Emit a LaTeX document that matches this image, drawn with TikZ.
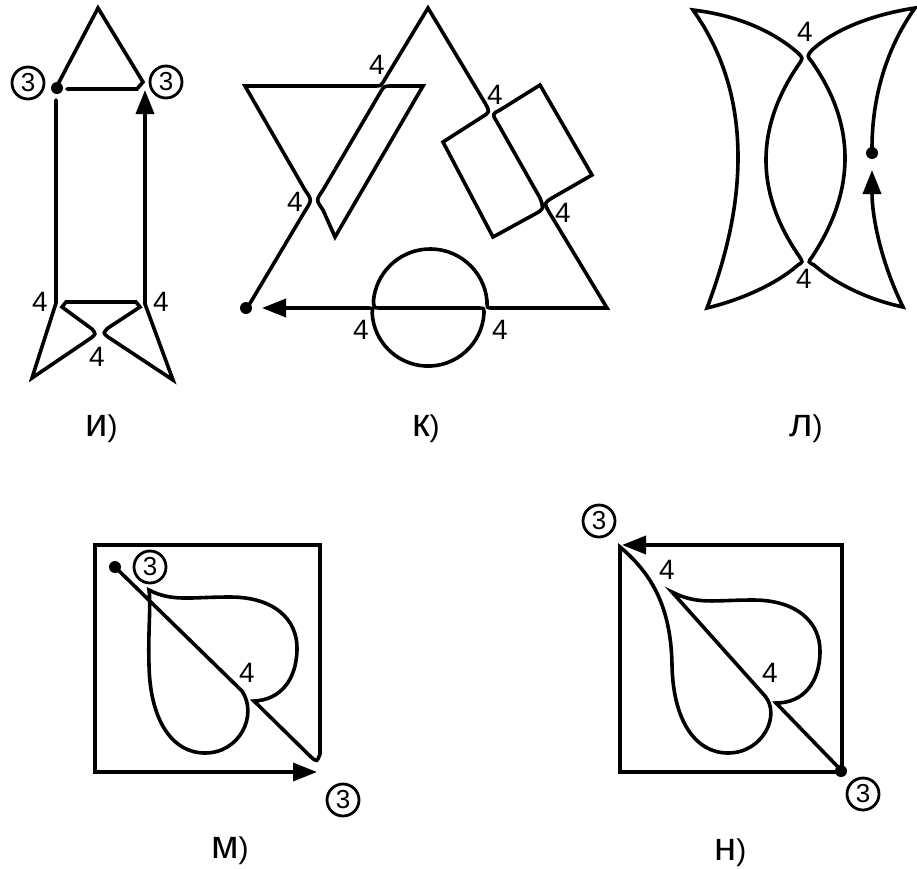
\documentclass[tikz,border=0pt]{standalone}
\usepackage{fontspec}
\setmainfont{Liberation Sans}
\usetikzlibrary{arrows.meta}
\begin{document}
\begin{tikzpicture}[x=1pt,y=-1pt,
  ln/.style={line width=3.6pt, line cap=round},
  arr/.style={ln, -{Triangle[length=24pt,width=18pt]}},
  four/.style={inner sep=0pt, font=\fontsize{28}{28}\selectfont},
  three/.style={draw, circle, line width=2.8pt, minimum size=32pt, inner sep=0pt, font=\fontsize{26}{26}\selectfont},
  dotn/.style={circle, fill, minimum size=12pt, inner sep=0pt},
  capt/.style={inner sep=0pt, anchor=base west}
]
\useasboundingbox (0,0) rectangle (917,868);
\fill[white] (0,0) rectangle (917,868);

% ---------- figure i ----------
\draw[ln] (57,86) -- (98,8) -- (143,82) -- (137,89) -- (67,89);
\draw[arr] (56,100) -- (56,303) -- (32,378) -- (91,338) .. controls (96,334) .. (92,329)
  -- (62,307) -- (66,302) -- (136,302) -- (140,307) -- (108,328)
  .. controls (103,333) .. (108,337) -- (173,380) -- (145,304) -- (145,90);
\node[dotn] (id) at (57,88) {};
\node[three] (i3a) at (28,83) {3};
\node[three] (i3b) at (166,82) {3};
\node[four] (i4a) at (40,302) {4};
\node[four] (i4b) at (161,302) {4};
\node[four] (i4c) at (97,357) {4};
\node[capt] (ci) at (85,436) {\fontsize{40}{40}\selectfont и\fontsize{30}{30}\selectfont)};

% ---------- figure k ----------
\draw[arr] (249,305) -- (305,211) .. controls (312,200) .. (305,190) -- (245,86) -- (375,86)
  .. controls (381,86) .. (385,79) -- (428,8) -- (485,103) .. controls (490,112) .. (482,117)
  -- (443,142) -- (493,237) -- (535,214) .. controls (544,209) .. (540,198) -- (497,122)
  .. controls (492,114) .. (500,110) -- (540,85) -- (592,175) -- (552,198)
  .. controls (544,203) .. (549,212) -- (607,308) -- (492,308) .. controls (487,308) .. (487,301)
  arc[start angle=-5, end angle=-175, radius=57] .. controls (374,308) .. (380,308)
  -- (478,308) .. controls (484,308) .. (484,313)
  arc[start angle=3, end angle=177, radius=56] .. controls (373,308) .. (366,308) -- (262,308);
\draw[ln] (423,86) -- (392,86) .. controls (384,86) .. (380,93) -- (323,190)
  .. controls (316,200) .. (323,210) -- (335,237) -- cycle;
\node[dotn] (kd) at (246,308) {};
\node[four] (k4a) at (377,65) {4};
\node[four] (k4b) at (495,95) {4};
\node[four] (k4c) at (563,213) {4};
\node[four] (k4d) at (295,202) {4};
\node[four] (k4e) at (361,330) {4};
\node[four] (k4f) at (500,330) {4};
\node[capt] (ck) at (412,436) {\fontsize{40}{40}\selectfont к\fontsize{30}{30}\selectfont)};

% ---------- figure l ----------
\draw[ln] (693,10) .. controls (735,15) and (772,30) .. (798,53) .. controls (803,58) .. (799,64)
  .. controls (755,128) and (755,192) .. (799,256) .. controls (803,262) .. (798,265)
  .. controls (775,285) and (740,300) .. (707,308)
  .. controls (725,260) and (738,210) .. (738,157)
  .. controls (738,105) and (725,55) .. (693,10) -- cycle;
\draw[arr] (872,148) .. controls (872,100) and (885,50) .. (915,8)
  .. controls (870,15) and (834,30) .. (812,50) .. controls (807,56) .. (812,62)
  .. controls (856,125) and (856,190) .. (812,257) .. controls (808,262) .. (814,265)
  .. controls (837,285) and (870,300) .. (903,307)
  .. controls (880,260) and (872,215) .. (872,170);
\node[dotn] (ld) at (872,153) {};
\node[four] (l4a) at (805,32) {4};
\node[four] (l4b) at (804,279) {4};
\node[capt] (cl) at (789,436) {\fontsize{40}{40}\selectfont л\fontsize{30}{30}\selectfont)};

% ---------- figure m ----------
\draw[arr] (115,567) -- (242,691) .. controls (258,715) and (240,753) .. (205,753)
  .. controls (172,753) and (150,720) .. (149,665) .. controls (148,630) and (151,605) .. (149,590)
  .. controls (172,602) and (190,597) .. (230,597) .. controls (275,597) and (297,620) .. (297,648)
  .. controls (297,680) and (280,700) .. (254,701) -- (311,757) .. controls (317,762) .. (320,754)
  -- (320,545) -- (95,545) -- (95,772) -- (317,772);
\node[dotn] (md) at (115,567) {};
\node[three] (m3a) at (150,567) {3};
\node[three] (m3b) at (343,800) {3};
\node[four] (m4) at (247,673) {4};
\node[capt] (cm) at (211,858) {\fontsize{40}{40}\selectfont м\fontsize{30}{30}\selectfont)};

% ---------- figure n ----------
\draw[arr] (838,767) -- (776,703) .. controls (803,703) and (820,683) .. (820,651)
  .. controls (820,623) and (798,600) .. (753,600) .. controls (713,600) and (698,605) .. (672,592)
  -- (765,696) .. controls (781,715) and (763,753) .. (728,753)
  .. controls (695,753) and (673,720) .. (672,665) .. controls (671,605) and (650,572) .. (620,547)
  -- (620,772) -- (842,772) -- (842,545) -- (622,545);
\node[dotn] (nd) at (841,771) {};
\node[three] (n3a) at (599,521) {3};
\node[three] (n3b) at (863,794) {3};
\node[four] (n4a) at (667,570) {4};
\node[four] (n4b) at (770,673) {4};
\node[capt] (cn) at (714,860) {\fontsize{40}{40}\selectfont н\fontsize{30}{30}\selectfont)};
\end{tikzpicture}
\end{document}
